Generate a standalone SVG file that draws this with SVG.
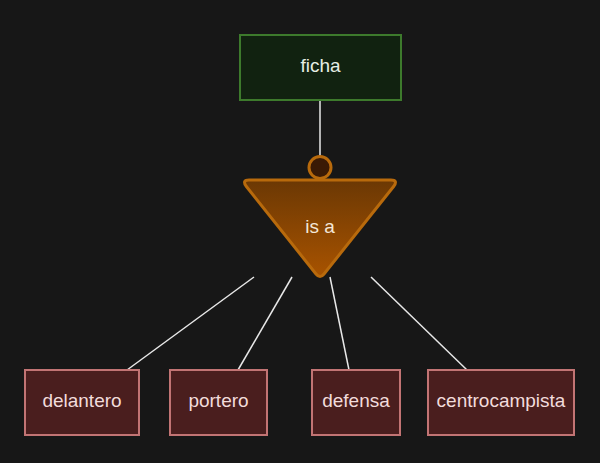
<svg xmlns="http://www.w3.org/2000/svg" width="600" height="463" viewBox="0 0 600 463">
<defs>
<linearGradient id="tri" x1="0" y1="0" x2="0" y2="1">
<stop offset="0" stop-color="#6b3804"/>
<stop offset="1" stop-color="#a85300"/>
</linearGradient>
<style>
text{font-family:"Liberation Sans",Arial,sans-serif;font-size:19px;text-anchor:middle}
.sub rect{fill:#4a1e1e;stroke:#c27474;stroke-width:2}
.sub text{fill:#f2dcdc}
.conn line{stroke:#e8e8e8;stroke-width:1.5}
</style>
</defs>
<rect width="600" height="463" fill="#171717"/>
<g class="conn" id="connectors">
<line x1="320" y1="100" x2="320" y2="156"/>
<line x1="254" y1="277" x2="127" y2="370"/>
<line x1="292" y1="277" x2="238" y2="370"/>
<line x1="330" y1="277" x2="349" y2="370"/>
<line x1="371" y1="277" x2="467" y2="370"/>
</g>
<g id="ficha">
<rect x="240" y="35" width="161" height="65" fill="#112210" stroke="#3d7a2c" stroke-width="2"/>
<text x="320.5" y="72" fill="#e6eee4">ficha</text>
</g>
<g id="isa">
<circle cx="320" cy="167.5" r="11" fill="#3a1a05" stroke="#b86a0c" stroke-width="3"/>
<path d="M249,180 L391,180 Q398,180 394,186 L324,274 Q320,279 316,274 L246,186 Q242,180 249,180 Z" fill="url(#tri)" stroke="#b86a0c" stroke-width="3" stroke-linejoin="round"/>
<text x="320" y="233" fill="#f3e6d8">is a</text>
</g>
<g id="delantero" class="sub">
<rect x="25" y="370" width="114" height="65"/>
<text x="82" y="407">delantero</text>
</g>
<g id="portero" class="sub">
<rect x="170" y="370" width="97" height="65"/>
<text x="218.5" y="407">portero</text>
</g>
<g id="defensa" class="sub">
<rect x="312" y="370" width="88" height="65"/>
<text x="356" y="407">defensa</text>
</g>
<g id="centrocampista" class="sub">
<rect x="428" y="370" width="146" height="65"/>
<text x="501" y="407">centrocampista</text>
</g>
</svg>
